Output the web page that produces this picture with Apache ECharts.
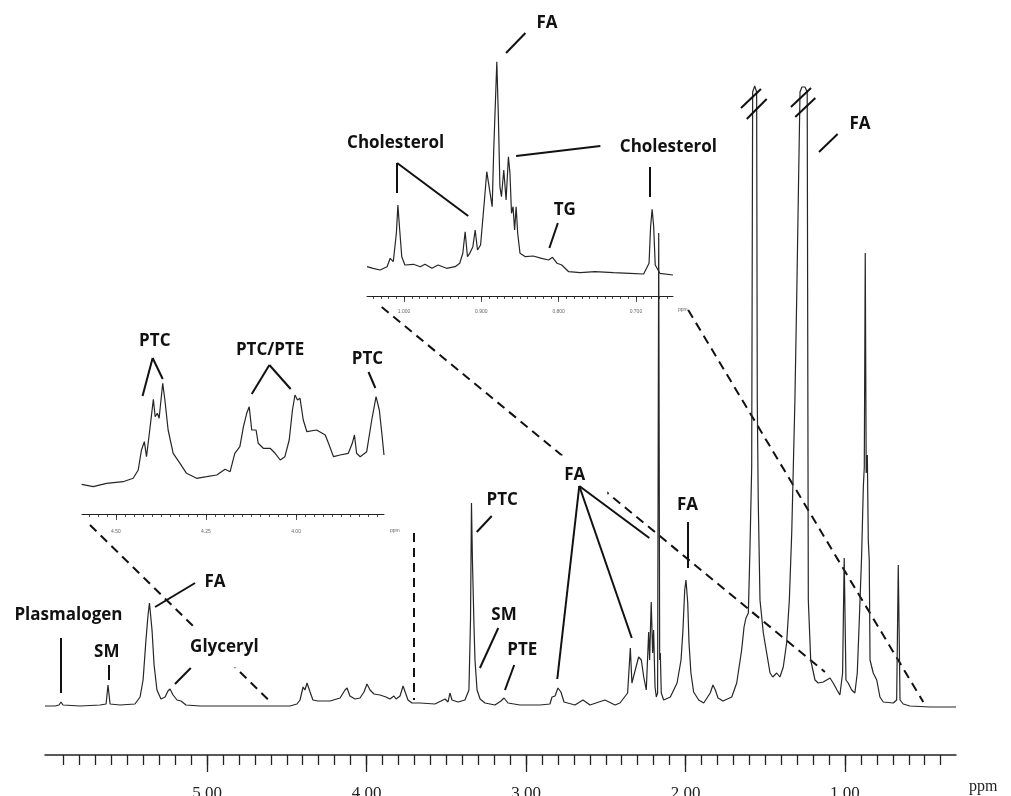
<!DOCTYPE html>
<html>
<head>
<meta charset="utf-8">
<title>1H NMR lipid spectrum</title>
<script src="https://cdn.jsdelivr.net/npm/echarts@6/dist/echarts.min.js"></script>
<style>
    html, body { margin: 0; padding: 0; background: #fff; }
    #main { width: 1011px; height: 796px; }
</style>
</head>
<body>
<div id="main"></div>
<script>
// main spectrum [ppm, intensity]
var mainSpectrum = [
    [6.016,0],[5.953,0],[5.928,1],[5.916,4],[5.903,1],[5.796,0],[5.671,1],[5.633,2],[5.621,21],[5.608,2],
    [5.546,1],[5.452,2],[5.420,9],[5.401,26],[5.383,66],[5.370,91],[5.361,103],[5.351,86],[5.345,76],[5.332,41],
    [5.314,16],[5.289,7],[5.263,9],[5.245,15],[5.232,17],[5.213,11],[5.188,6],[5.163,5],[5.132,1],[5.044,0],
    [4.856,0],[4.668,0],[4.480,0],[4.436,2],[4.417,6],[4.398,19],[4.386,16],[4.373,23],[4.354,14],[4.336,6],
    [4.304,5],[4.229,5],[4.166,8],[4.135,16],[4.122,18],[4.104,10],[4.072,7],[4.041,8],[4.016,14],[3.997,22],
    [3.978,16],[3.953,12],[3.916,11],[3.878,9],[3.853,7],[3.828,10],[3.815,7],[3.790,10],[3.771,20],[3.759,18],
    [3.740,6],[3.715,3],[3.665,3],[3.571,2],[3.533,5],[3.508,7],[3.489,4],[3.477,13],[3.464,6],[3.426,4],
    [3.383,6],[3.358,16],[3.348,86],[3.342,203],[3.336,146],[3.326,79],[3.320,46],[3.307,16],[3.288,7],[3.257,3],
    [3.195,1],[3.157,5],[3.138,8],[3.113,3],[3.038,1],[2.912,1],[2.850,2],[2.837,9],[2.818,10],[2.800,18],
    [2.781,14],[2.762,4],[2.693,1],[2.643,6],[2.599,1],[2.505,6],[2.442,1],[2.411,3],[2.363,13],[2.346,58],
    [2.336,23],[2.315,36],[2.294,49],[2.277,46],[2.262,29],[2.246,16],[2.231,74],[2.225,46],[2.215,104],[2.206,53],
    [2.200,76],[2.191,19],[2.183,9],[2.175,13],[2.168,473],[2.162,46],[2.158,53],[2.152,13],[2.137,6],[2.095,9],
    [2.053,23],[2.028,46],[2.016,76],[2.005,116],[1.997,126],[1.986,103],[1.978,63],[1.966,33],[1.949,14],[1.917,6],
    [1.886,3],[1.845,13],[1.828,21],[1.813,16],[1.796,8],[1.765,5],[1.710,9],[1.679,23],[1.648,56],[1.633,79],
    [1.621,88],[1.606,93],[1.596,156],[1.585,239],[1.579,614],[1.566,620],[1.554,614],[1.550,306],[1.544,206],[1.533,106],
    [1.512,73],[1.491,53],[1.470,33],[1.453,29],[1.428,33],[1.408,29],[1.387,39],[1.366,63],[1.349,106],[1.334,173],
    [1.324,239],[1.314,306],[1.303,406],[1.293,506],[1.282,614],[1.270,619],[1.251,619],[1.237,614],[1.230,106],[1.215,46],
    [1.188,26],[1.168,23],[1.136,24],[1.094,28],[1.074,23],[1.050,16],[1.032,11],[1.015,33],[1.005,148],[0.994,26],
    [0.980,23],[0.958,16],[0.938,13],[0.923,33],[0.911,83],[0.896,149],[0.885,219],[0.879,239],[0.873,453],[0.867,233],
    [0.860,251],[0.854,166],[0.848,146],[0.843,46],[0.823,33],[0.801,26],[0.781,9],[0.760,4],[0.697,3],[0.676,6],
    [0.666,141],[0.655,6],[0.635,2],[0.593,0],[0.467,-1],[0.304,-1]
];

// upper inset, 1.05 - 0.65 ppm
var cholSpectrum = [
    [1.048,9.3],[1.040,7.7],[1.031,6],[1.022,9.3],[1.018,17.7],[1.014,14.3],[1.010,42.7],[1.008,71],[1.006,49.3],[1.003,19.3],
    [0.999,11],[0.988,11.7],[0.979,9.3],[0.973,11.7],[0.964,7.7],[0.956,11],[0.945,7.7],[0.934,9.3],[0.928,12.7],[0.924,22.7],
    [0.921,44.3],[0.918,19.3],[0.915,22.7],[0.911,29.3],[0.908,46],[0.905,26],[0.901,31],[0.896,76],[0.893,104.3],[0.890,89.3],
    [0.886,69.3],[0.884,126],[0.880,214.3],[0.878,159.3],[0.876,89.3],[0.874,79.3],[0.871,106],[0.868,76],[0.865,119.3],[0.863,102.7],
    [0.861,62.7],[0.859,69.3],[0.857,46],[0.855,69.3],[0.853,42.7],[0.850,22.7],[0.843,19.3],[0.833,20],[0.822,17.7],[0.813,16],
    [0.808,18.7],[0.802,12.7],[0.796,11],[0.787,4.3],[0.772,3.3],[0.753,4.3],[0.729,3.3],[0.708,2.7],[0.690,2],[0.683,12.7],
    [0.681,49.3],[0.679,66.7],[0.677,49.3],[0.675,11],[0.669,2.7],[0.652,1]
];

// left inset, 4.6 - 3.75 ppm
var ptcSpectrum = [
    [4.595,5.7],[4.563,3.3],[4.526,6.7],[4.480,8.3],[4.452,11.7],[4.438,20],[4.429,40],[4.421,48.3],[4.415,33.3],[4.406,60],
    [4.396,90.7],[4.391,73.3],[4.385,76.7],[4.380,71.7],[4.370,106.7],[4.364,90],[4.355,60],[4.341,36.7],[4.322,26.7],[4.304,16.7],
    [4.276,11.7],[4.248,13.3],[4.220,15],[4.197,20.7],[4.183,18.3],[4.170,36.7],[4.156,43.3],[4.146,63.3],[4.137,76.7],[4.130,83.3],
    [4.123,60],[4.111,60],[4.105,46.7],[4.091,41.7],[4.072,41.7],[4.058,36.7],[4.044,30],[4.031,33.3],[4.019,50],[4.010,80],
    [4.003,95],[3.996,90],[3.989,91.7],[3.980,70],[3.970,58.3],[3.943,60],[3.919,55],[3.910,46.7],[3.896,33.3],[3.878,35],
    [3.855,36.7],[3.844,46.7],[3.838,55],[3.832,36.7],[3.822,33.3],[3.804,38.3],[3.790,70],[3.778,93.3],[3.769,80],[3.762,56.7],
    [3.756,35]
];

// tick labels
var mainMajorTicks = [1, 2, 3, 4, 5];
var cholMajorTicks = [1.0, 0.9, 0.8, 0.7];
var ptcMajorTicks = [4.5, 4.25, 4.0];

// annotations (data coords of each panel)
var mainLabels = [
    {name: 'Plasmalogen', value: [5.869, 91]},
    {name: 'SM', value: [5.629, 54]},
    {name: 'FA', value: [4.950, 124]},
    {name: 'Glyceryl', value: [4.835, 59], label: {backgroundColor: '#ffffff', padding: [12, 30, 12, 12]}},
    {name: 'PTC', value: [3.149, 206]},
    {name: 'SM', value: [3.138, 91]},
    {name: 'PTE', value: [3.023, 56]},
    {name: 'FA', value: [2.666, 231], label: {backgroundColor: '#ffffff', padding: [13, 22, 9, 13]}},
    {name: 'FA', value: [1.988, 201]},
    {name: 'FA', value: [0.906, 582]}
];
var mainLeaders = [
    [[5.916, 68], [5.916, 13]],
    [[5.615, 41], [5.615, 26]],
    [[5.075, 123], [5.326, 99]],
    [[5.102, 38], [5.201, 22]],
    [[3.215, 190], [3.309, 174]],
    [[3.174, 78], [3.289, 38]],
    [[3.074, 41], [3.132, 16]],
    [[2.666, 220], [2.804, 27]],
    [[2.666, 220], [2.337, 68]],
    [[2.666, 220], [2.227, 168]],
    [[1.988, 184], [1.988, 138]],
    [[1.046, 572], [1.163, 554]],
    // axis break marks on the two truncated peaks
    [[1.652, 598], [1.527, 617]],
    [[1.616, 587], [1.491, 607]],
    [[1.339, 599], [1.213, 618]],
    [[1.312, 589], [1.186, 608]]
];
var connectors = [
    [[3.905, 399], [1.126, 34]],
    [[1.983, 396], [0.509, 4]],
    [[5.734, 181], [4.595, 3]],
    [[3.702, 173], [3.702, 6]]
];
var cholLabels = [
    {name: 'FA', value: [0.815, 253]},
    {name: 'Cholesterol', value: [1.011, 133]},
    {name: 'Cholesterol', value: [0.658, 129]},
    {name: 'TG', value: [0.792, 66]}
];
var cholLeaders = [
    [[0.843, 243], [0.868, 223]],
    [[1.009, 113], [1.009, 83]],
    [[1.009, 113], [0.917, 60]],
    [[0.746, 130], [0.855, 120]],
    [[0.682, 109], [0.682, 79]],
    [[0.801, 53], [0.812, 28]]
];
var ptcLabels = [
    {name: 'PTC', value: [4.392, 149]},
    {name: 'PTC/PTE', value: [4.072, 140]},
    {name: 'PTC', value: [3.802, 131]}
];
var ptcLeaders = [
    [[4.398, 132], [4.426, 94]],
    [[4.398, 132], [4.370, 111]],
    [[4.074, 125], [4.123, 96]],
    [[4.074, 125], [4.015, 101]],
    [[3.799, 118], [3.780, 102]]
];

function stepTicks(from, to, step) {
    var out = [];
    var n = Math.round((to - from) / step);
    for (var i = 0; i <= n; i++) {
        out.push(+(from + i * step).toFixed(4));
    }
    return out;
}

var ink = '#111';

function tickAxis(grid, min, max, offset, ticks, len, labels, fmt, fontSize, margin, showLine) {
    return {
        type: 'value', gridIndex: grid, min: min, max: max, inverse: true,
        position: 'bottom', offset: offset,
        axisLine: {show: showLine, onZero: false, lineStyle: {color: '#222', width: grid === 0 ? 1.5 : 1}},
        axisTick: {show: true, customValues: ticks, length: len, lineStyle: {color: '#222', width: grid === 0 ? 1.3 : 0.8}},
        axisLabel: labels ? {
            show: true, customValues: labels, margin: margin,
            formatter: function (v) { return v.toFixed(fmt); },
            color: grid === 0 ? '#222' : '#666', fontSize: fontSize,
            fontFamily: grid === 0 ? 'Liberation Serif' : 'Liberation Sans'
        } : {show: false},
        splitLine: {show: false}
    };
}

function labelSeries(xi, yi, items) {
    return {
        type: 'scatter', xAxisIndex: xi, yAxisIndex: yi, z: 3, silent: true,
        symbolSize: 1, itemStyle: {color: '#ffffff', opacity: 1},
        label: {
            show: true, position: 'inside', formatter: '{b}', opacity: 1,
            fontFamily: 'Open Sans', fontWeight: 'bold', fontSize: 17, color: ink,
            textBorderWidth: 0
        },
        emphasis: {disabled: true},
        data: items
    };
}

function segmentSeries(xi, yi, segs, dashed, z) {
    return {
        type: 'lines', coordinateSystem: 'cartesian2d', xAxisIndex: xi, yAxisIndex: yi,
        z: z, silent: true, polyline: false,
        lineStyle: {color: ink, width: 2, opacity: 1, curveness: 0, type: dashed ? [9, 6] : 'solid'},
        data: segs.map(function (s) { return {coords: s}; })
    };
}

function spectrumSeries(xi, yi, data) {
    return {
        type: 'line', xAxisIndex: xi, yAxisIndex: yi, z: 2,
        symbol: 'none', clip: false, silent: true,
        lineStyle: {color: '#262626', width: 1.2},
        data: data
    };
}

var chart = echarts.init(document.getElementById('main'));

var option = {
    animation: false,
    backgroundColor: '#fff',
    grid: [
        {left: 45, right: 55, top: 6, bottom: 80, outerBoundsMode: 'none'},
        {left: 367, right: 338, top: 0, bottom: 516, outerBoundsMode: 'none'},
        {left: 82, right: 627, top: 320, bottom: 302, outerBoundsMode: 'none'}
    ],
    xAxis: [
        tickAxis(0, 0.304, 6.016, 39, mainMajorTicks, 17, mainMajorTicks, 2, 17, 30, true),
        tickAxis(0, 0.304, 6.016, 39, stepTicks(0.4, 5.9, 0.1), 10, null, 0, 0, 0, false),
        tickAxis(1, 0.652, 1.048, 16, cholMajorTicks, 6, cholMajorTicks, 3, 5, 13, true),
        tickAxis(1, 0.652, 1.048, 16, stepTicks(0.66, 1.04, 0.01), 3, null, 0, 0, 0, false),
        tickAxis(2, 3.756, 4.594, 20, ptcMajorTicks, 6, ptcMajorTicks, 2, 5, 15, true),
        tickAxis(2, 3.756, 4.594, 20, stepTicks(3.775, 4.575, 0.025), 3, null, 0, 0, 0, false)
    ],
    yAxis: [
        {type: 'value', gridIndex: 0, min: -10, max: 700, show: false},
        {type: 'value', gridIndex: 1, min: -4, max: 276, show: false},
        {type: 'value', gridIndex: 2, min: -4, max: 170, show: false}
    ],
    graphic: [
        {type: 'text', left: 969, top: 779, style: {text: 'ppm', font: '16px "Liberation Serif"', fill: '#222'}},
        {type: 'text', left: 678, top: 307, style: {text: 'ppm', font: '5px "Liberation Sans"', fill: '#666'}},
        {type: 'text', left: 390, top: 528, style: {text: 'ppm', font: '5px "Liberation Sans"', fill: '#666'}}
    ],
    series: [
        segmentSeries(0, 0, connectors, true, 1),
        spectrumSeries(0, 0, mainSpectrum),
        spectrumSeries(2, 1, cholSpectrum),
        spectrumSeries(4, 2, ptcSpectrum),
        labelSeries(0, 0, mainLabels),
        labelSeries(2, 1, cholLabels),
        labelSeries(4, 2, ptcLabels),
        segmentSeries(0, 0, mainLeaders, false, 4),
        segmentSeries(2, 1, cholLeaders, false, 4),
        segmentSeries(4, 2, ptcLeaders, false, 4)
    ]
};

chart.setOption(option);
</script>
</body>
</html>
